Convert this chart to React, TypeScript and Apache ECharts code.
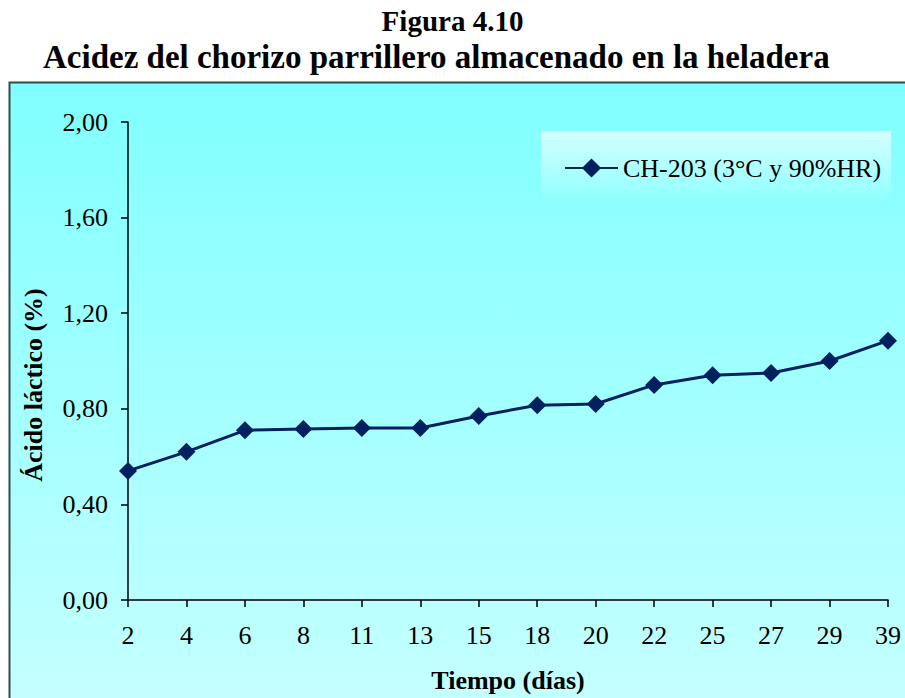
import React, { useEffect, useRef } from "react";
import * as echarts from "echarts";

const categories = ["2", "4", "6", "8", "11", "13", "15", "18", "20", "22", "25", "27", "29", "39"];
const seriesName = "CH-203 (3°C y 90%HR)";
const acidity = [0.54, 0.62, 0.71, 0.715, 0.72, 0.72, 0.77, 0.815, 0.82, 0.9, 0.94, 0.95, 1.0, 1.085];
const titleLine1 = "Figura 4.10";
const titleLine2 = "Acidez del chorizo parrillero almacenado en la heladera";
const xName = "Tiempo (días)";
const yName = "Ácido láctico (%)";

const FONT = "'Liberation Serif', 'Times New Roman', serif";

export default function App() {
  const ref = useRef<HTMLDivElement>(null);
  useEffect(() => {
    if (!ref.current) return;
    const chart = echarts.init(ref.current, null, { renderer: "svg" });
    chart.setOption({
      animation: false,
      backgroundColor: "#ffffff",
      title: [
        {
          text: titleLine1,
          left: "center",
          top: 1,
          textStyle: { fontFamily: FONT, fontWeight: "bold", fontSize: 29, color: "#000" },
        },
        {
          text: titleLine2,
          left: 38,
          top: 35,
          textStyle: { fontFamily: FONT, fontWeight: "bold", fontSize: 33, color: "#000" },
        },
      ],
      graphic: [
        {
          type: "rect",
          z: -10,
          silent: true,
          shape: { x: 9.5, y: 82.5, width: 1000, height: 700 },
          style: {
            fill: new echarts.graphic.LinearGradient(0, 0, 0, 1, [
              { offset: 0, color: "#80FFFF" },
              { offset: 1, color: "#CEFFFF" },
            ]),
            stroke: "#2F4F4F",
            lineWidth: 2,
          },
        },
        {
          type: "rect",
          z: -5,
          silent: true,
          shape: { x: 541, y: 131, width: 350, height: 72 },
          style: {
            fill: new echarts.graphic.LinearGradient(0, 0, 0, 1, [
              { offset: 0, color: "#D4FFFF" },
              { offset: 1, color: "#8EFFFF" },
            ]),
          },
        },
        {
          type: "text",
          x: 33,
          y: 385,
          rotation: Math.PI / 2,
          silent: true,
          style: {
            text: yName,
            fontFamily: FONT,
            fontWeight: "bold",
            fontSize: 26,
            fill: "#000",
            align: "center",
            verticalAlign: "middle",
          },
        },
      ],
      legend: {
        left: 559,
        top: 150,
        itemWidth: 53,
        itemHeight: 24,
        itemGap: 4,
        textStyle: { fontFamily: FONT, fontSize: 26, color: "#000" },
        data: [seriesName],
      },
      grid: { left: 128, right: 17, top: 122, bottom: 95 },
      xAxis: {
        type: "category",
        data: categories,
        boundaryGap: false,
        name: xName,
        nameLocation: "middle",
        nameGap: 67,
        nameTextStyle: { fontFamily: FONT, fontWeight: "bold", fontSize: 26, color: "#000" },
        axisLine: { lineStyle: { color: "#000", width: 1.5 } },
        axisTick: { show: true, inside: false, length: 7, alignWithLabel: true, lineStyle: { color: "#000", width: 1.5 } },
        axisLabel: { fontFamily: FONT, fontSize: 26, color: "#000", margin: 22, interval: 0 },
        splitLine: { show: false },
      },
      yAxis: {
        type: "value",
        min: 0,
        max: 2,
        interval: 0.4,
        axisLine: { show: true, lineStyle: { color: "#000", width: 1.5 } },
        axisTick: { show: true, inside: false, length: 7, lineStyle: { color: "#000", width: 1.5 } },
        axisLabel: {
          fontFamily: FONT,
          fontSize: 26,
          color: "#000",
          margin: 20,
          formatter: (v: number) => v.toFixed(2).replace(".", ","),
        },
        splitLine: { show: false },
      },
      series: [
        {
          name: seriesName,
          type: "line",
          data: acidity,
          symbol: "diamond",
          symbolSize: 18,
          itemStyle: { color: "#00205F" },
          lineStyle: { color: "#00205F", width: 3 },
        },
      ],
    });
    return () => chart.dispose();
  }, []);
  return (
    <div
      ref={ref}
      style={{ position: "fixed", left: 0, top: 0, width: 905, height: 698 }}
    />
  );
}
